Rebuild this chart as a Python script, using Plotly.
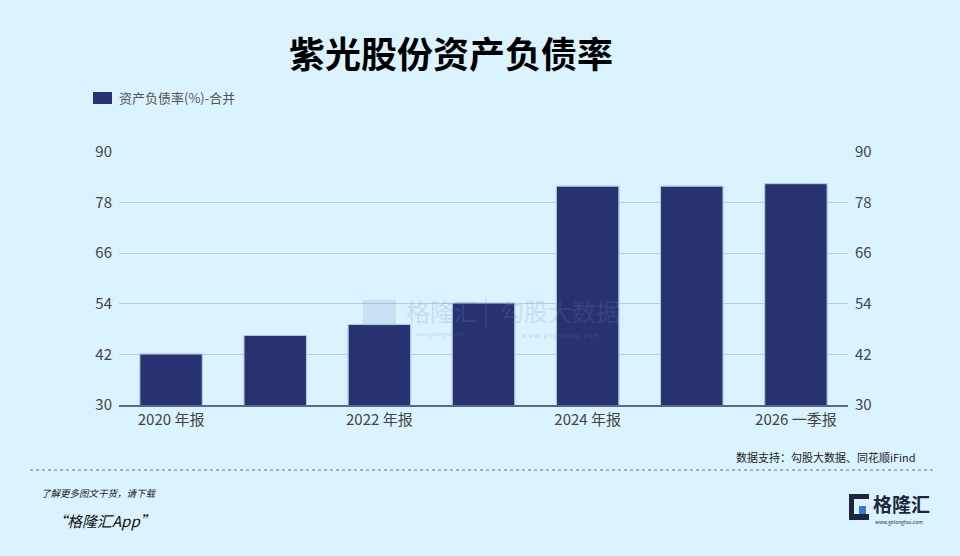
import plotly.graph_objects as go

categories = ["2020 年报", "2021 年报", "2022 年报", "2023 年报", "2024 年报", "2025 年报", "2026 一季报"]
values = [42.1, 46.5, 49.1, 54.2, 81.9, 81.9, 82.5]
tick_vals_y = [30, 42, 54, 66, 78, 90]
shown_labels = ["2020 年报", "2022 年报", "2024 年报", "2026 一季报"]
series_name = "资产负债率(%)-合并"
title_text = "紫光股份资产负债率"

BG = "#dbf3ff"
BAR = "#283270"
FONT = "Noto Sans CJK SC, Noto Sans, sans-serif"

W, H = 960, 556
ml, mr, mt, mb = 119, 112, 152, 151
pw, ph = W - ml - mr, H - mt - mb

def px2paper(x, y):
    return (x - ml) / pw, (H - mb - y) / ph

fig = go.Figure()
fig.add_trace(go.Bar(
    x=categories, y=values, name=series_name,
    marker=dict(color=BAR, line=dict(color="#8fa3d6", width=1)),
    yaxis="y", showlegend=False,
))
fig.add_trace(go.Bar(
    x=categories, y=values, showlegend=False, yaxis="y2",
    marker=dict(color="rgba(0,0,0,0)"), hoverinfo="skip",
))

fig.update_layout(
    width=W, height=H,
    paper_bgcolor=BG, plot_bgcolor=BG,
    margin=dict(l=ml, r=mr, t=mt, b=mb),
    barmode="overlay",
    bargap=0.4,
    font=dict(family=FONT, color="#444444", size=15),
    showlegend=False,
    xaxis=dict(
        type="category", tickmode="array", tickvals=shown_labels, ticktext=shown_labels,
        showgrid=False, showline=True, linecolor="#5a6890", linewidth=1.5,
        ticks="", tickfont=dict(size=15, color="#444444"),
    ),
    yaxis=dict(
        range=[30, 90], tickvals=tick_vals_y, showgrid=True, gridcolor="#b3cfea",
        gridwidth=1.2, zeroline=False, ticks="", ticklabelstandoff=6,
        tickfont=dict(size=15, color="#444444"),
    ),
    yaxis2=dict(
        range=[30, 90], tickvals=tick_vals_y, overlaying="y", side="right",
        showgrid=False, zeroline=False, ticks="", ticklabelstandoff=6,
        tickfont=dict(size=15, color="#444444"),
    ),
)

annotations = [
    dict(text="<b>" + title_text + "</b>", x=451, y=52, showarrow=False,
         font=dict(size=36, color="#000000", family=FONT)),
    dict(text=series_name, x=117, y=98, showarrow=False, xanchor="left",
         font=dict(size=13, color="#555555", family=FONT)),
    dict(text="数据支持：勾股大数据、同花顺iFind", x=918, y=457, showarrow=False,
         xanchor="right", font=dict(size=11, color="#222222", family=FONT)),
    dict(text="<i>了解更多图文干货，请下载</i>", x=39, y=493, showarrow=False,
         xanchor="left", font=dict(size=9.5, color="#222222", family=FONT)),
    dict(text="<i>“格隆汇App”</i>", x=50, y=520, showarrow=False,
         xanchor="left", font=dict(size=15, color="#111111", family=FONT)),
    dict(text="<b>格隆汇</b>", x=871, y=503, showarrow=False,
         xanchor="left", font=dict(size=19, color="#1d2540", family=FONT)),
    dict(text="www.gelonghui.com", x=873, y=522, showarrow=False,
         xanchor="left", font=dict(size=5, color="#1d2540", family=FONT)),
    # watermark
    dict(text="格隆汇", x=442, y=310, showarrow=False, xanchor="center",
         font=dict(size=24, color="rgba(110,140,190,0.22)", family=FONT)),
    dict(text="www.gelonghui.com", x=440, y=334, showarrow=False, xanchor="center",
         font=dict(size=5, color="rgba(110,140,190,0.3)", family=FONT)),
    dict(text="勾股大数据", x=560, y=310, showarrow=False, xanchor="center",
         font=dict(size=24, color="rgba(110,140,190,0.2)", family=FONT)),
    dict(text="w w w . g o g u d a t a . c o m", x=560, y=335, showarrow=False, xanchor="center",
         font=dict(size=6, color="rgba(110,140,190,0.3)", family=FONT)),
]
for a in annotations:
    a["xref"] = "paper"
    a["yref"] = "paper"
    a["x"], a["y"] = px2paper(a["x"], a["y"])
    a.setdefault("yanchor", "middle")
fig.update_layout(annotations=annotations)

def rect(xa, ya, xb, yb, **kw):
    x0, y0 = px2paper(xa, yb)
    x1, y1 = px2paper(xb, ya)
    d = dict(type="rect", xref="paper", yref="paper", x0=x0, x1=x1, y0=y0, y1=y1, line=dict(width=0))
    d.update(kw)
    return d

shapes = []
# legend swatch
shapes.append(rect(93, 92, 112, 104, fillcolor=BAR))
# dotted separator
x0, y0 = px2paper(30, 470)
x1, _ = px2paper(935, 470)
shapes.append(dict(type="line", xref="paper", yref="paper", x0=x0, x1=x1, y0=y0, y1=y0,
                   line=dict(color="#777777", width=1, dash="dot")))
# logo G block
shapes.append(rect(849, 494, 869, 520, fillcolor="#1d2540"))
shapes.append(rect(854, 499, 869, 514, fillcolor=BG))
shapes.append(rect(859, 506, 866, 514, fillcolor="#3a78c8"))
# watermark G
shapes.append(rect(363, 300, 396, 326, fillcolor="rgba(110,140,190,0.18)", layer="above"))
vx0, vy0 = px2paper(486, 328)
_, vy1 = px2paper(486, 298)
shapes.append(dict(type="line", xref="paper", yref="paper", x0=vx0, x1=vx0, y0=vy0, y1=vy1,
                   line=dict(color="rgba(110,140,190,0.25)", width=1)))
fig.update_layout(shapes=shapes)

fig.write_html("out.html")
